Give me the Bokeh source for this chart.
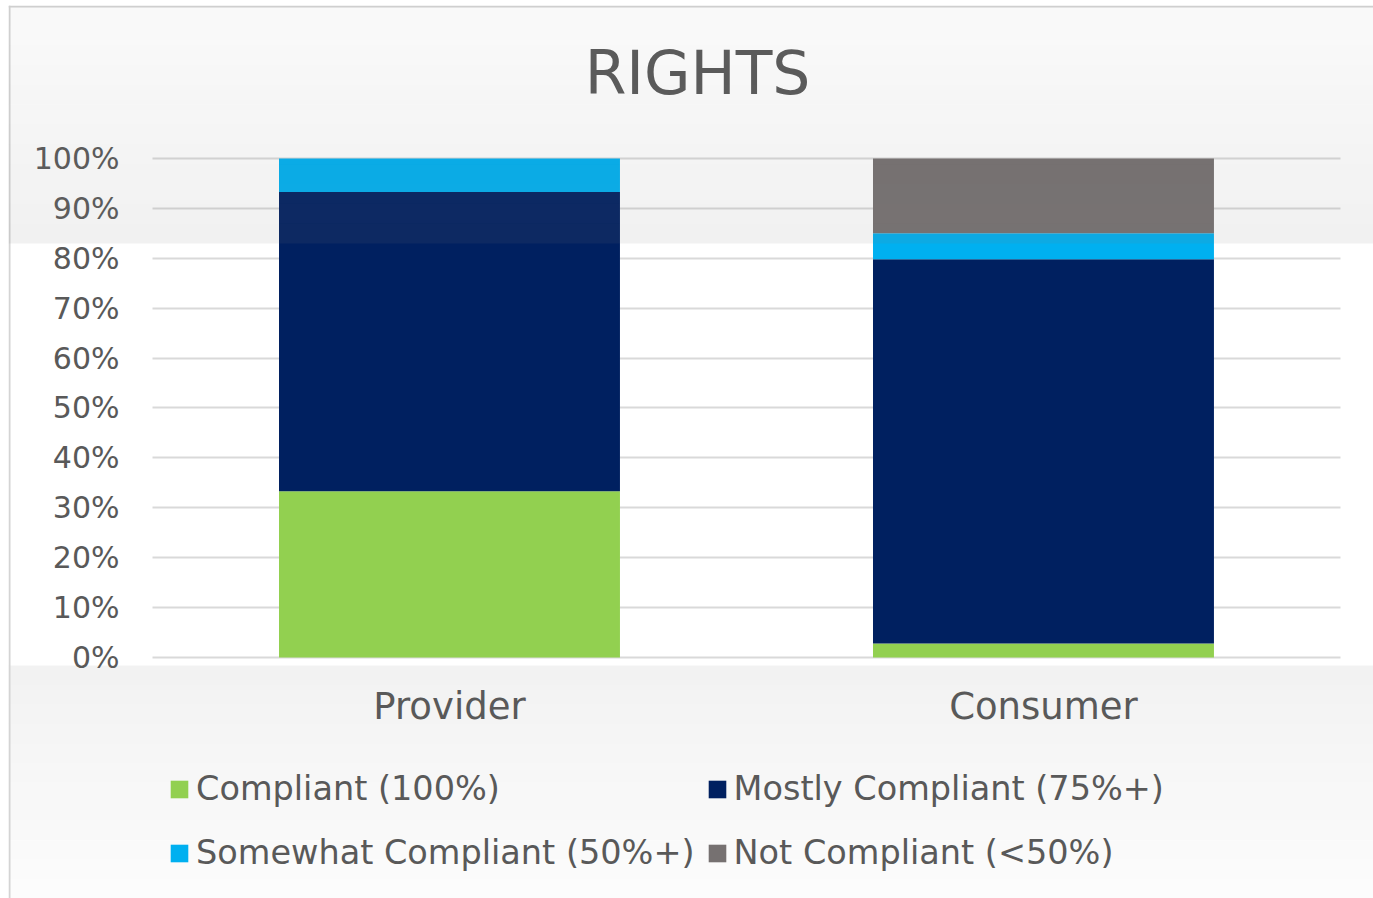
from bokeh.plotting import figure
from bokeh.models import (ColumnDataSource, Range1d, Legend, LegendItem, FixedTicker,
                          NumeralTickFormatter, BoxAnnotation, Label, LinearAxis, Span)
from bokeh.embed import file_html
from bokeh.resources import INLINE

categories = ["Provider", "Consumer"]
series = ["Compliant (100%)", "Mostly Compliant (75%+)", "Somewhat Compliant (50%+)", "Not Compliant (<50%)"]
compliant = [0.333, 0.028]
mostly = [0.600, 0.770]
somewhat = [0.067, 0.052]
not_compliant = [0.0, 0.150]
colors = ["#92d050", "#002060", "#00b0f0", "#767171"]
y_ticks = [0, 0.1, 0.2, 0.3, 0.4, 0.5, 0.6, 0.7, 0.8, 0.9, 1.0]

FONT = "DejaVu Sans"
TXT = "#595959"

xpos = list(range(len(categories)))
source = ColumnDataSource(dict(x=xpos, c=compliant, m=mostly, s=somewhat, n=not_compliant))

p = figure(x_range=Range1d(-0.7424, 1.5556), y_range=Range1d(-0.483, 1.3066),
           width=1373, height=898, output_backend="svg", toolbar_location=None,
           min_border_left=8, min_border_top=5, min_border_right=0, min_border_bottom=0,
           x_axis_location=None, y_axis_location=None)

renderers = p.vbar_stack(["c", "m", "s", "n"], x="x", width=0.574, color=colors,
                         source=source, line_color=None)

yaxis = LinearAxis(fixed_location=-0.5, ticker=FixedTicker(ticks=y_ticks),
                   formatter=NumeralTickFormatter(format="0%"))
yaxis.major_label_text_font = FONT
yaxis.major_label_text_font_size = "30px"
yaxis.major_label_text_color = TXT
yaxis.axis_line_color = None
yaxis.major_tick_line_color = None
yaxis.minor_tick_line_color = None
yaxis.major_label_standoff = 27
p.add_layout(yaxis, "left")

xaxis = LinearAxis(fixed_location=0, ticker=FixedTicker(ticks=xpos),
                   major_label_overrides={i: c for i, c in zip(xpos, categories)})
xaxis.major_label_text_font = FONT
xaxis.major_label_text_font_size = "37px"
xaxis.major_label_text_color = TXT
xaxis.axis_line_color = None
xaxis.major_tick_line_color = None
xaxis.minor_tick_line_color = None
xaxis.major_label_standoff = 22
p.add_layout(xaxis, "below")

p.xgrid.grid_line_color = None
p.ygrid.ticker = FixedTicker(ticks=y_ticks)
p.ygrid.grid_line_color = "#d9d9d9"
p.ygrid.grid_line_width = 2
p.ygrid.cross_bounds = (-0.5, 1.5)
p.outline_line_color = None
p.background_fill_color = "white"
p.border_fill_color = "white"

# chart-area border (top and left edges only are visible in the reference)
p.add_layout(Span(location=1, location_units="screen", dimension="height",
                  line_color="#d4d4d4", line_width=2, level="overlay"))
p.add_layout(Span(location=892, location_units="screen", dimension="width",
                  line_color="#d4d4d4", line_width=2, level="overlay"))

title = Label(x=689, y=826, x_units="screen", y_units="screen", text="RIGHTS",
              text_font=FONT, text_font_size="60px", text_color=TXT,
              text_align="center", text_baseline="middle")
p.add_layout(title)

order = [0, 2, 1, 3]  # column-major layout -> rows: (Compliant, Mostly), (Somewhat, Not)
items = [LegendItem(label=series[i], renderers=[renderers[i]]) for i in order]
legend = Legend(items=items, ncols=2, location=(160, 19),
                label_text_font=FONT, label_text_font_size="33.5px", label_text_color=TXT,
                glyph_width=22, glyph_height=22, label_standoff=6, spacing=11, label_height=53,
                background_fill_alpha=0, border_line_color=None, padding=0, margin=0)
p.add_layout(legend, "center")

# soft gradient bands (approximated with strips)
n_strips = 12
top_hi, top_lo = 893, 655
for k in range(n_strips):
    t = top_hi - (top_hi - top_lo) * k / n_strips
    b = top_hi - (top_hi - top_lo) * (k + 1) / n_strips
    a = 0.04 + (0.11 - 0.04) * (k + 0.5) / n_strips
    p.add_layout(BoxAnnotation(top=t, bottom=b, left=0, right=1365,
                               top_units="screen", bottom_units="screen",
                               left_units="screen", right_units="screen",
                               fill_color="#7f7f7f", fill_alpha=a, line_color=None, level="overlay"))
bot_hi, bot_lo = 233, 0
for k in range(n_strips):
    t = bot_hi - (bot_hi - bot_lo) * k / n_strips
    b = bot_hi - (bot_hi - bot_lo) * (k + 1) / n_strips
    a = 0.10 - (0.10 - 0.02) * (k + 0.5) / n_strips
    p.add_layout(BoxAnnotation(top=t, bottom=b, left=0, right=1365,
                               top_units="screen", bottom_units="screen",
                               left_units="screen", right_units="screen",
                               fill_color="#7f7f7f", fill_alpha=a, line_color=None, level="underlay"))

open("out.html", "w").write(file_html(p, INLINE))
